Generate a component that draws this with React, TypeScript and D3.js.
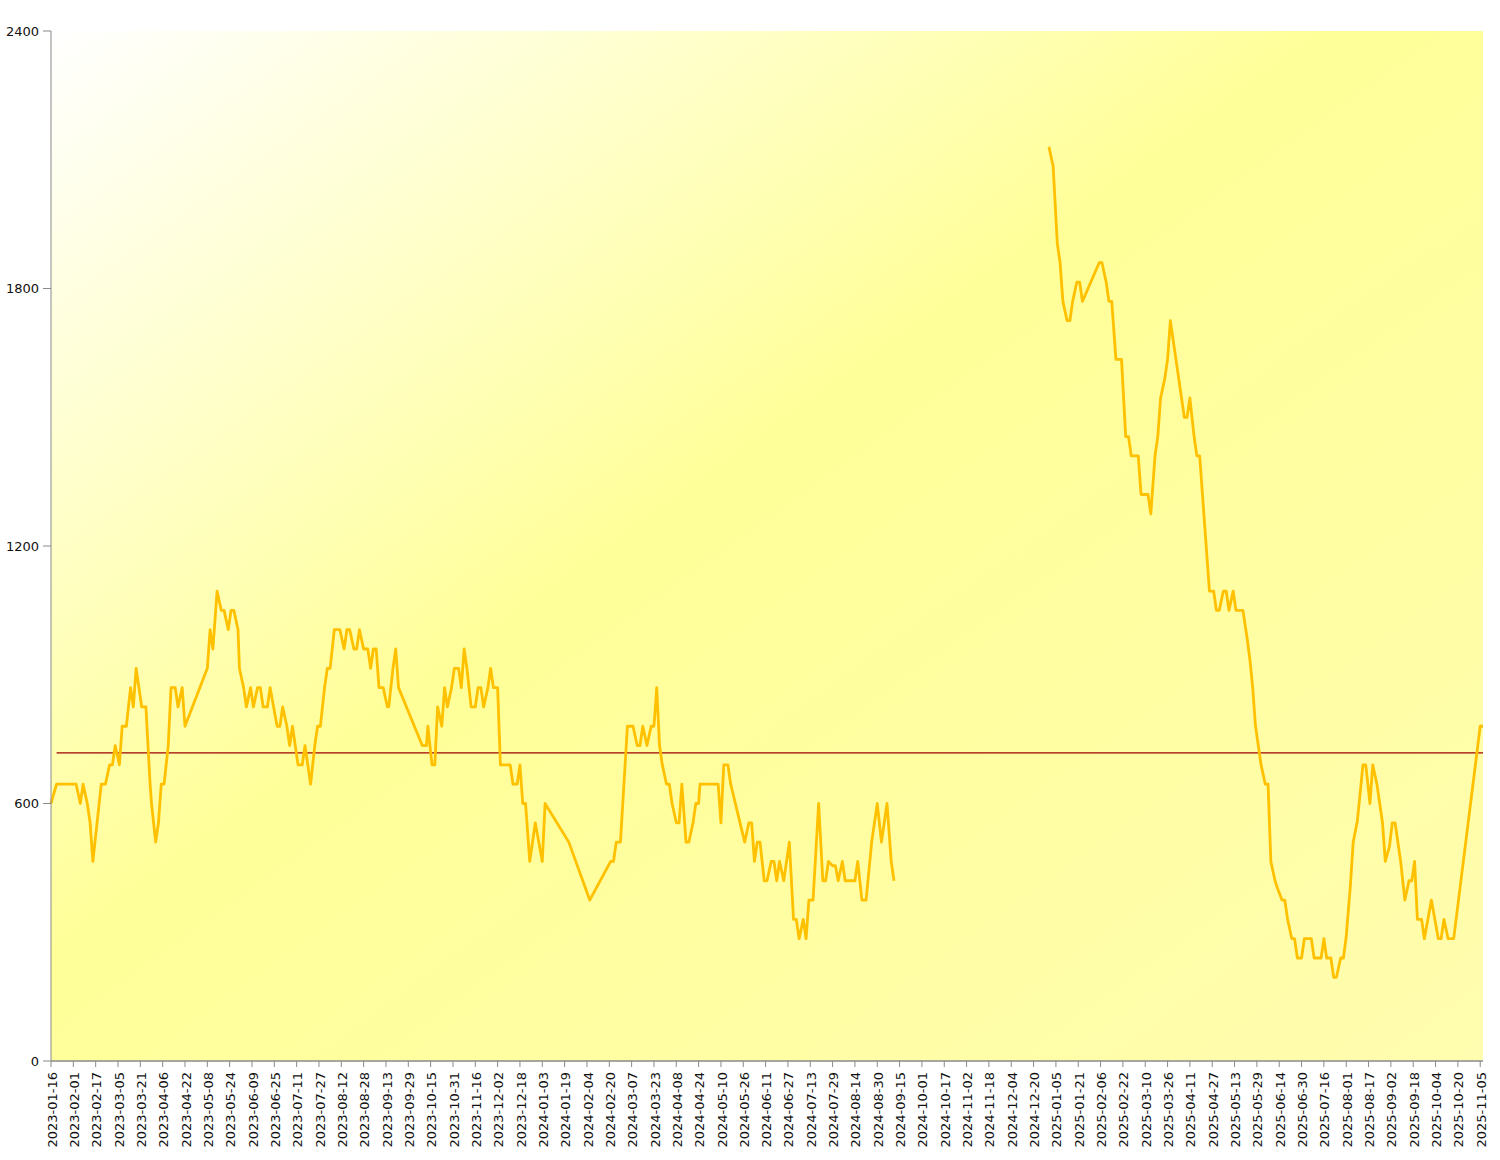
import React from "react";
import * as d3 from "d3";

const dates: string[] = [
  "2023-01-16","2023-01-20","2023-02-03","2023-02-06","2023-02-08","2023-02-11","2023-02-13","2023-02-15","2023-02-18","2023-02-21",
  "2023-02-24","2023-02-27","2023-03-01","2023-03-03","2023-03-06","2023-03-08","2023-03-11","2023-03-14","2023-03-16","2023-03-18",
  "2023-03-20","2023-03-22","2023-03-25","2023-03-28","2023-03-29","2023-04-01","2023-04-03","2023-04-05","2023-04-07","2023-04-10",
  "2023-04-12","2023-04-15","2023-04-17","2023-04-20","2023-04-22","2023-05-08","2023-05-10","2023-05-12","2023-05-15","2023-05-18",
  "2023-05-20","2023-05-23","2023-05-25","2023-05-27","2023-05-30","2023-05-31","2023-06-03","2023-06-05","2023-06-08","2023-06-10",
  "2023-06-13","2023-06-15","2023-06-17","2023-06-20","2023-06-22","2023-06-27","2023-06-29","2023-07-01","2023-07-04","2023-07-06",
  "2023-07-08","2023-07-10","2023-07-12","2023-07-15","2023-07-17","2023-07-21","2023-07-24","2023-07-26","2023-07-28","2023-07-31",
  "2023-08-02","2023-08-04","2023-08-07","2023-08-11","2023-08-14","2023-08-16","2023-08-18","2023-08-21","2023-08-23","2023-08-25",
  "2023-08-28","2023-08-31","2023-09-02","2023-09-04","2023-09-06","2023-09-08","2023-09-11","2023-09-14","2023-09-15","2023-09-18",
  "2023-09-20","2023-09-22","2023-10-09","2023-10-12","2023-10-13","2023-10-16","2023-10-18","2023-10-20","2023-10-23","2023-10-25",
  "2023-10-27","2023-10-30","2023-11-01","2023-11-04","2023-11-06","2023-11-08","2023-11-10","2023-11-13","2023-11-16","2023-11-18",
  "2023-11-20","2023-11-22","2023-11-25","2023-11-27","2023-11-29","2023-12-02","2023-12-04","2023-12-11","2023-12-13","2023-12-16",
  "2023-12-18","2023-12-20","2023-12-22","2023-12-25","2023-12-29","2024-01-03","2024-01-05","2024-01-22","2024-02-06","2024-02-21",
  "2024-02-23","2024-02-25","2024-02-28","2024-03-04","2024-03-08","2024-03-11","2024-03-13","2024-03-15","2024-03-18","2024-03-21",
  "2024-03-23","2024-03-25","2024-03-27","2024-03-29","2024-04-01","2024-04-03","2024-04-05","2024-04-08","2024-04-10","2024-04-12",
  "2024-04-15","2024-04-17","2024-04-20","2024-04-22","2024-04-24","2024-04-25","2024-05-08","2024-05-10","2024-05-12","2024-05-15",
  "2024-05-17","2024-05-27","2024-05-30","2024-06-01","2024-06-03","2024-06-05","2024-06-07","2024-06-10","2024-06-12","2024-06-15",
  "2024-06-17","2024-06-19","2024-06-21","2024-06-24","2024-06-28","2024-07-01","2024-07-03","2024-07-05","2024-07-08","2024-07-10",
  "2024-07-12","2024-07-15","2024-07-19","2024-07-22","2024-07-24","2024-07-26","2024-07-29","2024-07-31","2024-08-02","2024-08-05",
  "2024-08-07","2024-08-14","2024-08-16","2024-08-19","2024-08-22","2024-08-26","2024-08-30","2024-09-02","2024-09-06","2024-09-09",
  "2024-09-11","2024-10-15","2024-12-31","2025-01-03","2025-01-06","2025-01-08","2025-01-10","2025-01-13","2025-01-15","2025-01-17",
  "2025-01-20","2025-01-22","2025-01-24","2025-02-05","2025-02-07","2025-02-10","2025-02-12","2025-02-14","2025-02-17","2025-02-21",
  "2025-02-24","2025-02-26","2025-02-28","2025-03-05","2025-03-07","2025-03-12","2025-03-14","2025-03-17","2025-03-19","2025-03-21",
  "2025-03-24","2025-03-26","2025-03-28","2025-04-07","2025-04-09","2025-04-11","2025-04-14","2025-04-16","2025-04-18","2025-04-21",
  "2025-04-25","2025-04-28","2025-04-30","2025-05-02","2025-05-05","2025-05-07","2025-05-09","2025-05-12","2025-05-14","2025-05-19",
  "2025-05-22","2025-05-24","2025-05-26","2025-05-28","2025-05-30","2025-06-01","2025-06-04","2025-06-06","2025-06-08","2025-06-11",
  "2025-06-13","2025-06-16","2025-06-18","2025-06-20","2025-06-23","2025-06-25","2025-06-27","2025-06-30","2025-07-02","2025-07-07",
  "2025-07-09","2025-07-14","2025-07-16","2025-07-18","2025-07-21","2025-07-23","2025-07-25","2025-07-28","2025-07-30","2025-08-01",
  "2025-08-04","2025-08-06","2025-08-09","2025-08-13","2025-08-15","2025-08-18","2025-08-20","2025-08-23","2025-08-25","2025-08-27",
  "2025-08-29","2025-09-01","2025-09-03","2025-09-05","2025-09-09","2025-09-12","2025-09-15","2025-09-17","2025-09-19","2025-09-21",
  "2025-09-24","2025-09-26","2025-10-01","2025-10-06","2025-10-08","2025-10-10","2025-10-13","2025-10-17","2025-11-05","2025-11-07"
];

const values: (number | null)[] = [
  600,645,645,600,645,600,555,465,555,645,
  645,690,690,735,690,780,780,870,825,915,
  870,825,825,645,600,510,555,645,645,735,
  870,870,825,870,780,915,1005,960,1095,1050,
  1050,1005,1050,1050,1005,915,870,825,870,825,
  870,870,825,825,870,780,780,825,780,735,
  780,735,690,690,735,645,735,780,780,870,
  915,915,1005,1005,960,1005,1005,960,960,1005,
  960,960,915,960,960,870,870,825,825,915,
  960,870,735,735,780,690,690,825,780,870,
  825,870,915,915,870,960,915,825,825,870,
  870,825,870,915,870,870,690,690,645,645,
  690,600,600,465,555,465,600,510,375,465,
  465,510,510,780,780,735,735,780,735,780,
  780,870,735,690,645,645,600,555,555,645,
  510,510,555,600,600,645,645,555,690,690,
  645,510,555,555,465,510,510,420,420,465,
  465,420,465,420,510,330,330,285,330,285,
  375,375,600,420,420,465,455,455,420,465,
  420,420,465,375,375,510,600,510,600,465,
  420,null,2130,2085,1905,1860,1770,1725,1725,1770,
  1815,1815,1770,1860,1860,1815,1770,1770,1635,1635,
  1455,1455,1410,1410,1320,1320,1275,1410,1455,1545,
  1590,1635,1725,1500,1500,1545,1455,1410,1410,1275,
  1095,1095,1050,1050,1095,1095,1050,1095,1050,1050,
  985,935,870,780,735,690,645,645,465,420,
  400,375,375,330,285,285,240,240,285,285,
  240,240,285,240,240,195,195,240,240,290,
  410,510,560,690,690,600,690,645,600,555,
  465,500,555,555,465,375,420,420,465,330,
  330,285,375,285,285,330,285,285,780,780
];

const yTicks: number[] = [0, 600, 1200, 1800, 2400];
const AVERAGE = 718;
const TICK_STEP_DAYS = 16;

const W = 1500;
const H = 1160;
const M = { left: 51, right: 1483, top: 31, bottom: 1061 };

export default function App() {
  const parse = d3.utcParse("%Y-%m-%d");
  const fmt = d3.utcFormat("%Y-%m-%d");
  const data = dates.map((d, i) => ({ date: parse(d) as Date, v: values[i] }));
  const extent = d3.extent(data, (d) => d.date) as [Date, Date];
  const x = d3.scaleUtc().domain(extent).range([M.left, M.right]);
  const y = d3.scaleLinear().domain([0, 2400]).range([M.bottom, M.top]);

  const xTicks: Date[] = [];
  for (let t = extent[0]; t <= extent[1]; t = d3.utcDay.offset(t, TICK_STEP_DAYS)) xTicks.push(t);

  const line = d3
    .line<{ date: Date; v: number | null }>()
    .defined((d) => d.v != null)
    .x((d) => x(d.date))
    .y((d) => y(d.v as number));

  const axisColor = "#8a8a8a";
  const font = "'DejaVu Sans', Verdana, sans-serif";

  return (
    <svg width={W} height={H} style={{ position: "absolute", left: 0, top: 0, background: "#fff" }}>
      <defs>
        <linearGradient id="bg" x1="0" y1="0" x2="1" y2="1">
          <stop offset="0" stopColor="#ffffff" />
          <stop offset="0.45" stopColor="#ffff99" />
          <stop offset="1" stopColor="#fffdaf" />
        </linearGradient>
      </defs>
      <rect x={M.left} y={M.top} width={M.right - M.left} height={M.bottom - M.top} fill="url(#bg)" />
      <line x1={x(data[1].date)} x2={M.right} y1={y(AVERAGE)} y2={y(AVERAGE)} stroke="#a00000" strokeWidth={1.4} />
      <path d={line(data) || ""} fill="none" stroke="#ffc000" strokeWidth={2.8} strokeLinejoin="round" />
      {/* y axis */}
      <line x1={M.left} x2={M.left} y1={M.top} y2={M.bottom} stroke={axisColor} strokeWidth={1} />
      {yTicks.map((t) => (
        <g key={t}>
          <line x1={M.left - 8} x2={M.left} y1={y(t)} y2={y(t)} stroke={axisColor} />
          <text x={M.left - 12} y={y(t)} dy="0.35em" textAnchor="end" fontFamily={font} fontSize={13} fill="#111">
            {t}
          </text>
        </g>
      ))}
      {/* x axis */}
      <line x1={M.left} x2={M.right} y1={M.bottom} y2={M.bottom} stroke={axisColor} strokeWidth={1.5} />
      {xTicks.map((t) => (
        <g key={t.getTime()} transform={`translate(${x(t)},${M.bottom})`}>
          <line y1={0} y2={6} stroke={axisColor} />
          <text transform="translate(1,11) rotate(-90)" dy="0.35em" textAnchor="end" fontFamily={font} fontSize={13} fill="#111">
            {fmt(t)}
          </text>
        </g>
      ))}
    </svg>
  );
}
